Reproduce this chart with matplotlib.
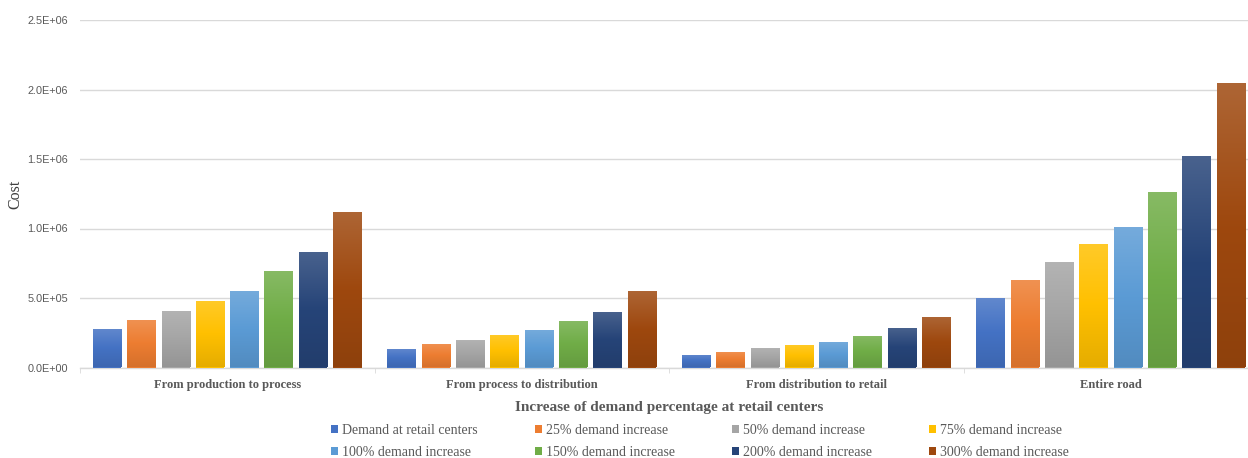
import numpy as np
import matplotlib.pyplot as plt
from matplotlib.colors import to_rgb
from matplotlib.patches import Patch
from matplotlib.ticker import FuncFormatter, FixedLocator

# Stages of the supply chain
categories = ["From production to process", "From process to distribution",
              "From distribution to retail", "Entire road"]

series_names = ["Demand at retail centers", "25% demand increase", "50% demand increase",
                "75% demand increase", "100% demand increase", "150% demand increase",
                "200% demand increase", "300% demand increase"]

# Cost per stage for each demand scenario
demand_base = [2.74e5, 1.35e5, 0.91e5, 5.02e5]
demand_25 = [3.39e5, 1.68e5, 1.13e5, 6.32e5]
demand_50 = [4.10e5, 1.97e5, 1.41e5, 7.58e5]
demand_75 = [4.78e5, 2.31e5, 1.61e5, 8.85e5]
demand_100 = [5.48e5, 2.67e5, 1.83e5, 1.012e6]
demand_150 = [6.92e5, 3.32e5, 2.28e5, 1.265e6]
demand_200 = [8.34e5, 4.01e5, 2.81e5, 1.522e6]
demand_300 = [1.117e6, 5.53e5, 3.63e5, 2.044e6]

series = [demand_base, demand_25, demand_50, demand_75,
          demand_100, demand_150, demand_200, demand_300]

colors = ["#4472C4", "#ED7D31", "#A5A5A5", "#FFC000",
          "#5B9BD5", "#70AD47", "#264478", "#9E480E"]

W, H = 1248, 458
fig = plt.figure(figsize=(W / 100, H / 100), dpi=100)
ax = fig.add_axes([80 / W, (H - 367.5) / H, 1178 / W, (367.5 - 20) / H])

x = np.arange(len(categories))
pitch = 0.1165
width = 0.097


def gradient_bar(rect, base):
    # vertical gradient: lighter on top, slightly darker at the bottom
    c = np.array(to_rgb(base))
    top = c + (1 - c) * 0.16
    bottom = c * 0.90
    t = np.linspace(0, 1, 64)[:, None]
    col = np.where(t < 0.5, top + (c - top) * (t / 0.5), c + (bottom - c) * ((t - 0.5) / 0.5))
    img = col[:, None, :]
    x0, y0 = rect.get_x(), rect.get_y()
    w, h = rect.get_width(), rect.get_height()
    im = ax.imshow(img, extent=[x0, x0 + w, y0, y0 + h], aspect="auto",
                   interpolation="bilinear", zorder=3, origin="upper")
    im.set_clip_path(rect)


for i, (vals, c) in enumerate(zip(series, colors)):
    bars = ax.bar(x + (i - 3.5) * pitch, vals, width, color=c, zorder=3, linewidth=0)
    for b in bars:
        gradient_bar(b, c)

ax.set_xlim(-0.5, 3.5)
ax.set_ylim(0, 2.5e6)
ax.set_aspect("auto")
ax.set_yticks(np.arange(0, 2.51e6, 5e5))
ax.yaxis.set_major_formatter(FuncFormatter(lambda v, p: f"{v:.1E}"))
ax.grid(axis="y", color="#D9D9D9", linewidth=1, zorder=0)
ax.set_axisbelow(True)

for s in ["top", "right", "left"]:
    ax.spines[s].set_visible(False)
ax.spines["bottom"].set_color("#D9D9D9")
ax.spines["bottom"].set_linewidth(1)

ax.set_xticks(x)
ax.set_xticklabels(categories, fontfamily="Liberation Serif", fontweight="bold",
                   fontsize=9, color="#595959")
ax.xaxis.set_minor_locator(FixedLocator(np.arange(-0.5, 3.6, 1)))
ax.tick_params(axis="x", which="major", length=0, pad=8.5)
ax.tick_params(axis="x", which="minor", length=3.5, direction="out", color="#D9D9D9")
ax.tick_params(axis="y", length=0, pad=8.5, labelsize=7.8, labelcolor="#595959")
for lab in ax.get_yticklabels():
    lab.set_fontfamily("Liberation Sans")

fig.text(15 / W, (H - 194) / H, "Cost", rotation=90, ha="center", va="center",
         fontfamily="Liberation Serif", fontsize=11.5, color="#404040")
fig.text(669 / W, (H - 407) / H, "Increase of demand percentage at retail centers",
         ha="center", va="center", fontfamily="Liberation Serif", fontweight="bold",
         fontsize=11, color="#595959")

handles = [Patch(facecolor=c, edgecolor="none") for c in colors]
order = [0, 4, 1, 5, 2, 6, 3, 7]
fig.legend([handles[k] for k in order], [series_names[k] for k in order],
           ncol=4, loc="center", bbox_to_anchor=(700 / W, (H - 441.5) / H),
           frameon=False, prop={"family": "Liberation Serif", "size": 10},
           labelcolor="#595959", handlelength=0.5, handleheight=0.5,
           handletextpad=0.3, columnspacing=4.1, labelspacing=0.62)

fig.savefig("out.png", dpi=100, facecolor="white")
